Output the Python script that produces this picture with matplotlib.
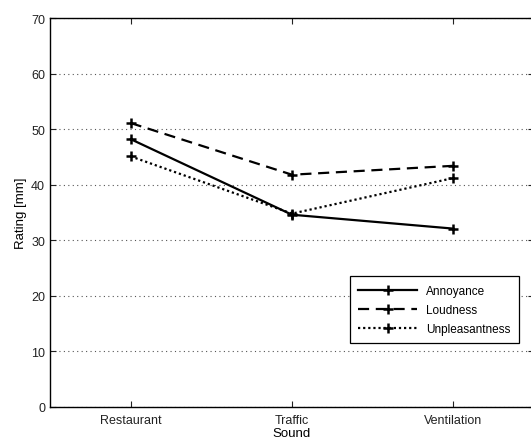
import numpy as np
import matplotlib.pyplot as plt

plt.rcParams['font.family'] = ['Liberation Sans', 'DejaVu Sans']

sounds = ['Restaurant', 'Traffic', 'Ventilation']
annoyance = [48.2, 34.6, 32.1]
loudness = [51.1, 41.8, 43.4]
unpleasantness = [45.1, 34.8, 41.2]

fig = plt.figure(figsize=(5.31, 4.39), dpi=100)
# axes run a little past the right edge, as in the scanned original
ax = fig.add_axes([50 / 531, 31 / 439, 484 / 531, 389 / 439])

x = np.arange(1, len(sounds) + 1)
ax.plot(x, annoyance, color='black', linestyle='-', linewidth=1.6,
        marker='+', markersize=7, markeredgewidth=1.8, label='Annoyance')
ax.plot(x, loudness, color='black', linestyle=(0, (5, 3)), linewidth=1.6,
        marker='+', markersize=7, markeredgewidth=1.8, label='Loudness')
ax.plot(x, unpleasantness, color='black', linestyle=(0, (1, 1.3)), linewidth=1.6,
        marker='+', markersize=7, markeredgewidth=1.8, label='Unpleasantness')

ax.set_xlim(0.5, 3.5)
ax.set_ylim(0, 70)
ax.set_xticks(x)
ax.set_xticklabels(sounds)
ax.set_yticks(np.arange(0, 71, 10))
ax.yaxis.grid(True, linestyle=(0, (1, 3)), color='#555555', linewidth=0.8)
ax.tick_params(direction='in', length=4, width=0.8, labelsize=9, colors='#222222',
               top=True, right=True)
ax.tick_params(axis='x', pad=5)
for s in ax.spines.values():
    s.set_linewidth(1.0)

ax.set_ylabel('Rating [mm]', fontsize=9.5, labelpad=3)
ax.set_xlabel('Sound', fontsize=9.5, labelpad=1)

leg = ax.legend(loc='lower right', bbox_to_anchor=(475 / 484, 58 / 389),
                fontsize=8.5, handlelength=5.0, fancybox=False, framealpha=1,
                edgecolor='black', borderpad=0.7, labelspacing=0.6)
leg.get_frame().set_linewidth(0.9)

fig.savefig('out.png', dpi=100)
